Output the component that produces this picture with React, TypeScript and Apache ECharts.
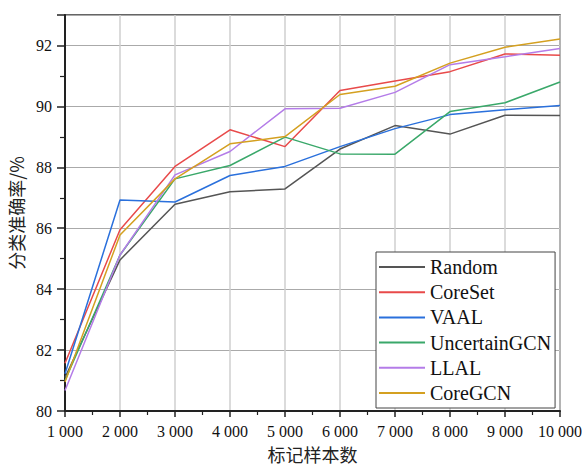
import React, { useEffect, useRef } from "react";
import * as echarts from "echarts";

const sampleCounts = [1000, 2000, 3000, 4000, 5000, 6000, 7000, 8000, 9000, 10000];
const seriesNames = ["Random", "CoreSet", "VAAL", "UncertainGCN", "LLAL", "CoreGCN"];
const random = [81.1, 84.96, 86.79, 87.2, 87.29, 88.6, 89.37, 89.09, 89.71, 89.7];
const coreSet = [81.57, 85.95, 88.03, 89.23, 88.68, 90.52, 90.83, 91.14, 91.72, 91.68];
const vaal = [81.22, 86.93, 86.86, 87.73, 88.03, 88.68, 89.27, 89.73, 89.89, 90.03];
const uncertainGCN = [81.0, 85.12, 87.62, 88.06, 88.99, 88.44, 88.43, 89.83, 90.12, 90.8];
const llal = [80.67, 85.12, 87.75, 88.52, 89.92, 89.94, 90.46, 91.37, 91.63, 91.9];
const coreGCN = [80.95, 85.78, 87.62, 88.77, 89.01, 90.39, 90.66, 91.42, 91.94, 92.21];
const colors = ["#555555", "#e84a4a", "#2a70dc", "#3aa86a", "#b47ce8", "#d4a020"];

const serif = "Liberation Serif";
const cjk = "Noto Sans CJK SC";

export default function App() {
  const ref = useRef<HTMLDivElement>(null);
  useEffect(() => {
    if (!ref.current) return;
    const chart = echarts.init(ref.current, null, { renderer: "svg" });
    const allData = [random, coreSet, vaal, uncertainGCN, llal, coreGCN];
    chart.setOption({
      animation: false,
      backgroundColor: "#fff",
      grid: {
        left: 65,
        right: 22,
        top: 15,
        bottom: 61,
        outerBoundsMode: "none",
        containLabel: false,
        show: true,
        borderColor: "#333",
        borderWidth: 1.5,
        backgroundColor: "transparent",
      },
      legend: {
        orient: "vertical",
        left: 376,
        top: 252,
        icon: "rect",
        itemWidth: 46,
        itemHeight: 2,
        itemGap: 5.2,
        padding: [5, 4, 5, 3],
        backgroundColor: "#fff",
        borderColor: "#444",
        borderWidth: 1,
        data: seriesNames,
        textStyle: { fontFamily: serif, fontSize: 20, color: "#111", lineHeight: 18 },
      },
      xAxis: {
        type: "value",
        min: 1000,
        max: 10000,
        interval: 1000,
        name: "标记样本数",
        nameLocation: "middle",
        nameGap: 34,
        nameTextStyle: { fontFamily: cjk, fontSize: 18, color: "#222" },
        axisLine: { lineStyle: { color: "#222", width: 2 } },
        axisTick: { show: true, length: 6, lineStyle: { color: "#222", width: 1.5 } },
        minorTick: { show: true, splitNumber: 2, length: 4, lineStyle: { color: "#222", width: 1.2 } },
        axisLabel: {
          margin: 12,
          fontFamily: serif,
          fontSize: 16,
          color: "#111",
          formatter: (v: number) => {
            const s = String(v);
            return s.length > 3 ? s.slice(0, s.length - 3) + " " + s.slice(-3) : s;
          },
        },
        splitLine: { show: true, lineStyle: { color: "#cfcfcf", width: 1.5 } },
      },
      yAxis: {
        type: "value",
        min: 80,
        max: 93,
        interval: 2,
        name: "分类准确率/%",
        nameLocation: "middle",
        nameRotate: 90,
        nameGap: 38,
        nameTextStyle: { fontFamily: cjk, fontSize: 18, color: "#222" },
        axisLine: { show: true, lineStyle: { color: "#222", width: 2 } },
        axisTick: { show: true, length: 8, lineStyle: { color: "#222", width: 1.5 } },
        minorTick: { show: true, splitNumber: 2, length: 5, lineStyle: { color: "#222", width: 1.2 } },
        axisLabel: { margin: 13, fontFamily: serif, fontSize: 16, color: "#111", showMaxLabel: false },
        splitLine: { show: true, lineStyle: { color: "#aaaaaa", width: 1 } },
      },
      series: seriesNames.map((name, i) => ({
        name,
        type: "line",
        symbol: "none",
        data: sampleCounts.map((x, j) => [x, allData[i][j]]),
        lineStyle: { color: colors[i], width: 1.5 },
        itemStyle: { color: colors[i] },
      })),
    });
    return () => chart.dispose();
  }, []);
  return <div ref={ref} style={{ width: 582, height: 472, position: "absolute", left: 0, top: 0 }} />;
}
